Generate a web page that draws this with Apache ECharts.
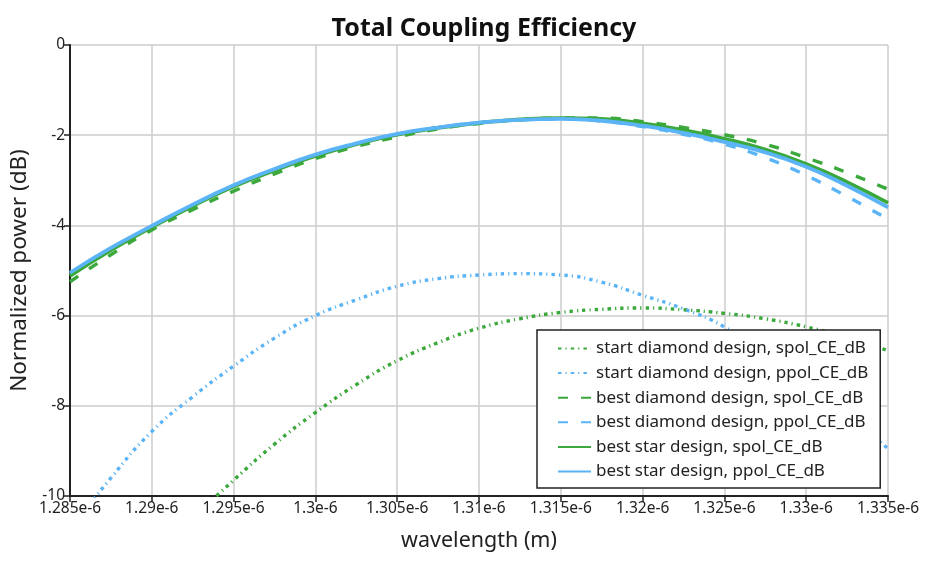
<!DOCTYPE html>
<html lang="en">
<head>
    <meta charset="UTF-8">
    <title>Total Coupling Efficiency</title>
    <script src="https://cdn.jsdelivr.net/npm/echarts@6/dist/echarts.min.js"></script>
    <style>
        html, body { margin: 0; padding: 0; background: #fff; }
        #chart { width: 934px; height: 561px; }
    </style>
</head>
<body>
<div id="chart"></div>
<script type="text/javascript">
    // wavelength in units of 1e-6 m
    var wavelength = [1.285, 1.2875, 1.29, 1.2925, 1.295, 1.2975, 1.3, 1.3025, 1.305, 1.3075, 1.31,
        1.3125, 1.315, 1.3175, 1.32, 1.3225, 1.325, 1.3275, 1.33, 1.3325, 1.335];

    var startDiamondSpol = [-13.5, -12.4, -11.4, -10.5, -9.65, -8.85, -8.15, -7.53, -7.0, -6.6, -6.28,
        -6.07, -5.93, -5.86, -5.83, -5.87, -5.95, -6.07, -6.25, -6.48, -6.78];
    var startDiamondPpol = [-10.75, -9.6, -8.57, -7.8, -7.12, -6.5, -6.0, -5.65, -5.35, -5.18, -5.1,
        -5.07, -5.1, -5.26, -5.55, -5.85, -6.25, -6.85, -7.5, -8.2, -8.95];
    var bestDiamondSpol = [-5.25, -4.65, -4.1, -3.65, -3.24, -2.86, -2.52, -2.25, -2.04, -1.86, -1.74,
        -1.66, -1.62, -1.62, -1.7, -1.83, -1.99, -2.2, -2.5, -2.83, -3.2];
    var bestDiamondPpol = [-5.08, -4.52, -4.02, -3.56, -3.13, -2.77, -2.45, -2.19, -1.98, -1.83, -1.72,
        -1.66, -1.64, -1.69, -1.81, -1.98, -2.2, -2.5, -2.89, -3.36, -3.86];
    var bestStarSpol = [-5.12, -4.55, -4.04, -3.57, -3.14, -2.78, -2.46, -2.2, -1.99, -1.84, -1.73,
        -1.65, -1.62, -1.64, -1.74, -1.89, -2.08, -2.32, -2.64, -3.04, -3.5];
    var bestStarPpol = [-5.05, -4.5, -4.01, -3.54, -3.11, -2.75, -2.43, -2.18, -1.97, -1.83, -1.72,
        -1.66, -1.64, -1.68, -1.79, -1.95, -2.15, -2.38, -2.7, -3.12, -3.6];

    var xTicks = [1.285, 1.29, 1.295, 1.3, 1.305, 1.31, 1.315, 1.32, 1.325, 1.33, 1.335];
    var yTicks = [0, -2, -4, -6, -8, -10];

    var green = '#3aa83a';
    var blue = '#5ab4f6';
    var dotDash = [3.5, 4, 1.2, 4];
    var dash = [10, 13];

    function pairs(ys) {
        var out = [];
        for (var i = 0; i < wavelength.length; i++) {
            out.push([wavelength[i], ys[i]]);
        }
        return out;
    }

    function line(name, ys, color, type, width) {
        return {
            name: name,
            type: 'line',
            data: pairs(ys),
            smooth: true,
            showSymbol: false,
            symbol: 'none',
            itemStyle: {color: color},
            lineStyle: {color: color, width: width, type: type}
        };
    }

    var font = 'Noto Sans';
    var chart = echarts.init(document.getElementById('chart'));
    var option = {
        animation: false,
        backgroundColor: '#fff',
        title: {
            text: 'Total Coupling Efficiency',
            left: 479,
            textAlign: 'center',
            top: 11,
            textStyle: {fontFamily: font, fontSize: 25, fontWeight: 'bold', color: '#111'}
        },
        grid: {left: 70, right: 46, top: 45, bottom: 65},
        legend: {
            orient: 'vertical',
            left: 537,
            top: 330,
            itemWidth: 33,
            itemHeight: 12,
            itemGap: 7.6,
            padding: [10, 12, 8, 20],
            backgroundColor: '#fff',
            borderColor: '#222',
            borderWidth: 1.5,
            borderRadius: 0,
            // hide the legend marker dot, keep the line sample
            itemStyle: {opacity: 0},
            textStyle: {fontFamily: font, fontSize: 17, color: '#222'},
            data: ['start diamond design, spol_CE_dB', 'start diamond design, ppol_CE_dB',
                'best diamond design, spol_CE_dB', 'best diamond design, ppol_CE_dB',
                'best star design, spol_CE_dB', 'best star design, ppol_CE_dB']
        },
        xAxis: {
            type: 'value',
            min: xTicks[0],
            max: xTicks[xTicks.length - 1],
            interval: 0.005,
            name: 'wavelength (m)',
            nameLocation: 'middle',
            nameGap: 34,
            nameTextStyle: {fontFamily: font, fontSize: 21.5, color: '#222'},
            axisLine: {onZero: false, lineStyle: {color: '#222', width: 2}},
            axisTick: {show: true, length: 6, lineStyle: {color: '#222', width: 1.5}},
            axisLabel: {
                fontFamily: font, fontSize: 15.5, color: '#222', margin: 5,
                formatter: function (v) { return parseFloat(v.toFixed(4)) + 'e-6'; }
            },
            splitLine: {show: true, lineStyle: {color: '#cccccc', width: 1.5}}
        },
        yAxis: {
            type: 'value',
            min: yTicks[yTicks.length - 1],
            max: yTicks[0],
            interval: 2,
            name: 'Normalized power (dB)',
            nameLocation: 'middle',
            nameGap: 36,
            nameTextStyle: {fontFamily: font, fontSize: 22.5, color: '#222'},
            axisLine: {show: true, lineStyle: {color: '#222', width: 2}},
            axisTick: {show: true, length: 6, lineStyle: {color: '#222', width: 1.5}},
            axisLabel: {fontFamily: font, fontSize: 15.5, color: '#222', margin: 5},
            splitLine: {show: true, lineStyle: {color: '#cccccc', width: 1.5}}
        },
        series: [
            line('start diamond design, spol_CE_dB', startDiamondSpol, green, dotDash, 3.4),
            line('start diamond design, ppol_CE_dB', startDiamondPpol, blue, dotDash, 3.4),
            line('best diamond design, spol_CE_dB', bestDiamondSpol, green, dash, 3.4),
            line('best diamond design, ppol_CE_dB', bestDiamondPpol, blue, dash, 3.4),
            line('best star design, spol_CE_dB', bestStarSpol, green, 'solid', 3.8),
            line('best star design, ppol_CE_dB', bestStarPpol, blue, 'solid', 3.8)
        ]
    };
    chart.setOption(option);
</script>
</body>
</html>
